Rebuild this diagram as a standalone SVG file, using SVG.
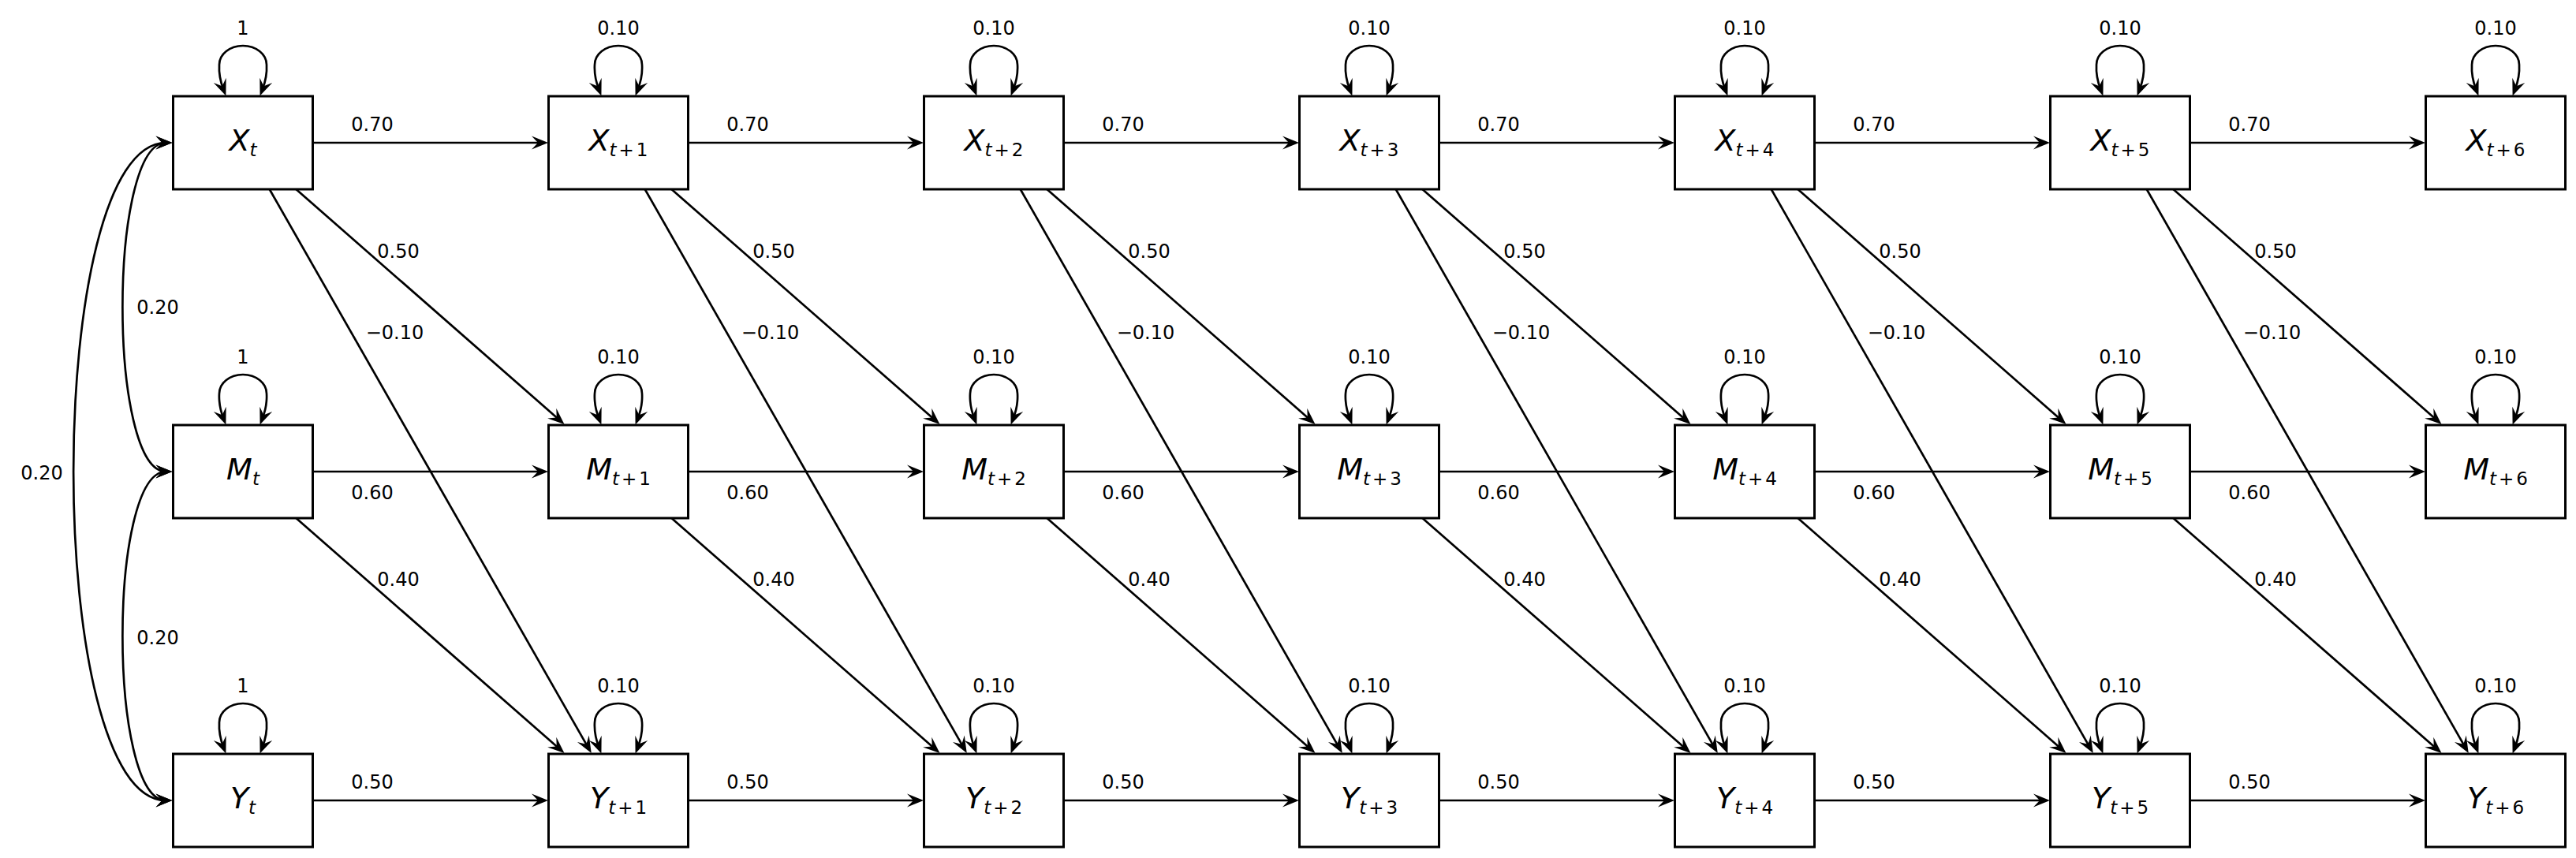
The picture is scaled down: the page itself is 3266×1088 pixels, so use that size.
<svg xmlns="http://www.w3.org/2000/svg" xmlns:xlink="http://www.w3.org/1999/xlink" width="3266" height="1088" viewBox="0 0 3266 1088">
<style>
.box{fill:#fff;stroke:#000;stroke-width:3}
.e{fill:none;stroke:#000;stroke-width:2.7;marker-end:url(#ah)}
.e2{fill:none;stroke:#000;stroke-width:2.7;marker-start:url(#ah);marker-end:url(#ah)}
.lbl{font-family:"DejaVu Sans","Liberation Sans",sans-serif;font-size:24px;text-anchor:middle;fill:#000}
.nd{font-family:"DejaVu Sans","Liberation Sans",sans-serif;font-size:38px;text-anchor:middle;fill:#000}
.it{font-style:italic}
.sub{font-size:23px}
</style>
<defs>
<marker id="ah" markerUnits="userSpaceOnUse" viewBox="-14 -9 23 18" refX="0" refY="0" markerWidth="23" markerHeight="18" orient="auto-start-reverse">
<path d="M8,0 L-13,-8.5 L-5,0 L-13,8.5 Z" fill="#000"/>
</marker>
<path id="loop" class="e2" d="M-24.5,-8 C-30,-22 -30.5,-32 -30,-40 A30,24 0 0 1 30,-40 C30.5,-32 30,-22 24.5,-8"/>
</defs>
<rect width="3266" height="1088" fill="#fff"/>

<g id="connectors">
<path class="e2" d="M210.5,181 C137,181 137,598 210.5,598"/>
<path class="e2" d="M210.5,598 C137,598 137,1015 210.5,1015"/>
<path class="e2" d="M210.5,181 C54,181 54,1015 210.5,1015"/>
<line class="e" x1="396.5" y1="181" x2="687" y2="181"/>
<line class="e" x1="872.5" y1="181" x2="1163" y2="181"/>
<line class="e" x1="1348.5" y1="181" x2="1639" y2="181"/>
<line class="e" x1="1824.5" y1="181" x2="2115" y2="181"/>
<line class="e" x1="2300.5" y1="181" x2="2591" y2="181"/>
<line class="e" x1="2776.5" y1="181" x2="3067" y2="181"/>
<line class="e" x1="396.5" y1="598" x2="687" y2="598"/>
<line class="e" x1="872.5" y1="598" x2="1163" y2="598"/>
<line class="e" x1="1348.5" y1="598" x2="1639" y2="598"/>
<line class="e" x1="1824.5" y1="598" x2="2115" y2="598"/>
<line class="e" x1="2300.5" y1="598" x2="2591" y2="598"/>
<line class="e" x1="2776.5" y1="598" x2="3067" y2="598"/>
<line class="e" x1="396.5" y1="1015" x2="687" y2="1015"/>
<line class="e" x1="872.5" y1="1015" x2="1163" y2="1015"/>
<line class="e" x1="1348.5" y1="1015" x2="1639" y2="1015"/>
<line class="e" x1="1824.5" y1="1015" x2="2115" y2="1015"/>
<line class="e" x1="2300.5" y1="1015" x2="2591" y2="1015"/>
<line class="e" x1="2776.5" y1="1015" x2="3067" y2="1015"/>
<line class="e" x1="375.4" y1="240" x2="709.5" y2="532.7"/>
<line class="e" x1="851.4" y1="240" x2="1185.5" y2="532.7"/>
<line class="e" x1="1327.4" y1="240" x2="1661.5" y2="532.7"/>
<line class="e" x1="1803.4" y1="240" x2="2137.5" y2="532.7"/>
<line class="e" x1="2279.4" y1="240" x2="2613.5" y2="532.7"/>
<line class="e" x1="2755.4" y1="240" x2="3089.5" y2="532.7"/>
<line class="e" x1="341.7" y1="240" x2="745.8" y2="948.1"/>
<line class="e" x1="817.7" y1="240" x2="1221.8" y2="948.1"/>
<line class="e" x1="1293.7" y1="240" x2="1697.8" y2="948.1"/>
<line class="e" x1="1769.7" y1="240" x2="2173.8" y2="948.1"/>
<line class="e" x1="2245.7" y1="240" x2="2649.8" y2="948.1"/>
<line class="e" x1="2721.7" y1="240" x2="3125.8" y2="948.1"/>
<line class="e" x1="375.4" y1="657" x2="709.5" y2="949.7"/>
<line class="e" x1="851.4" y1="657" x2="1185.5" y2="949.7"/>
<line class="e" x1="1327.4" y1="657" x2="1661.5" y2="949.7"/>
<line class="e" x1="1803.4" y1="657" x2="2137.5" y2="949.7"/>
<line class="e" x1="2279.4" y1="657" x2="2613.5" y2="949.7"/>
<line class="e" x1="2755.4" y1="657" x2="3089.5" y2="949.7"/>
<use xlink:href="#loop" href="#loop" x="308" y="122"/>
<use xlink:href="#loop" href="#loop" x="784" y="122"/>
<use xlink:href="#loop" href="#loop" x="1260" y="122"/>
<use xlink:href="#loop" href="#loop" x="1736" y="122"/>
<use xlink:href="#loop" href="#loop" x="2212" y="122"/>
<use xlink:href="#loop" href="#loop" x="2688" y="122"/>
<use xlink:href="#loop" href="#loop" x="3164" y="122"/>
<use xlink:href="#loop" href="#loop" x="308" y="539"/>
<use xlink:href="#loop" href="#loop" x="784" y="539"/>
<use xlink:href="#loop" href="#loop" x="1260" y="539"/>
<use xlink:href="#loop" href="#loop" x="1736" y="539"/>
<use xlink:href="#loop" href="#loop" x="2212" y="539"/>
<use xlink:href="#loop" href="#loop" x="2688" y="539"/>
<use xlink:href="#loop" href="#loop" x="3164" y="539"/>
<use xlink:href="#loop" href="#loop" x="308" y="956"/>
<use xlink:href="#loop" href="#loop" x="784" y="956"/>
<use xlink:href="#loop" href="#loop" x="1260" y="956"/>
<use xlink:href="#loop" href="#loop" x="1736" y="956"/>
<use xlink:href="#loop" href="#loop" x="2212" y="956"/>
<use xlink:href="#loop" href="#loop" x="2688" y="956"/>
<use xlink:href="#loop" href="#loop" x="3164" y="956"/>
</g>

<g id="edge-labels" class="lbl">
<text x="200" y="398">0.20</text>
<text x="200" y="817">0.20</text>
<text x="53" y="608">0.20</text>
<text x="472" y="166">0.70</text><text x="948" y="166">0.70</text><text x="1424" y="166">0.70</text><text x="1900" y="166">0.70</text><text x="2376" y="166">0.70</text><text x="2852" y="166">0.70</text>
<text x="472" y="633">0.60</text><text x="948" y="633">0.60</text><text x="1424" y="633">0.60</text><text x="1900" y="633">0.60</text><text x="2376" y="633">0.60</text><text x="2852" y="633">0.60</text>
<text x="472" y="1000">0.50</text><text x="948" y="1000">0.50</text><text x="1424" y="1000">0.50</text><text x="1900" y="1000">0.50</text><text x="2376" y="1000">0.50</text><text x="2852" y="1000">0.50</text>
<text x="505" y="327">0.50</text><text x="981" y="327">0.50</text><text x="1457" y="327">0.50</text><text x="1933" y="327">0.50</text><text x="2409" y="327">0.50</text><text x="2885" y="327">0.50</text>
<text x="500.5" y="430">−0.10</text><text x="976.5" y="430">−0.10</text><text x="1452.5" y="430">−0.10</text><text x="1928.5" y="430">−0.10</text><text x="2404.5" y="430">−0.10</text><text x="2880.5" y="430">−0.10</text>
<text x="505" y="743">0.40</text><text x="981" y="743">0.40</text><text x="1457" y="743">0.40</text><text x="1933" y="743">0.40</text><text x="2409" y="743">0.40</text><text x="2885" y="743">0.40</text>
<text x="308" y="44">1</text><text x="784" y="44">0.10</text><text x="1260" y="44">0.10</text><text x="1736" y="44">0.10</text><text x="2212" y="44">0.10</text><text x="2688" y="44">0.10</text><text x="3164" y="44">0.10</text>
<text x="308" y="461">1</text><text x="784" y="461">0.10</text><text x="1260" y="461">0.10</text><text x="1736" y="461">0.10</text><text x="2212" y="461">0.10</text><text x="2688" y="461">0.10</text><text x="3164" y="461">0.10</text>
<text x="308" y="878">1</text><text x="784" y="878">0.10</text><text x="1260" y="878">0.10</text><text x="1736" y="878">0.10</text><text x="2212" y="878">0.10</text><text x="2688" y="878">0.10</text><text x="3164" y="878">0.10</text>
</g>

<g id="X_t"><rect class="box" x="219.5" y="122" width="177" height="118"/><text class="nd" x="308" y="190.5"><tspan class="it">X</tspan><tspan class="sub it" dy="7.5">t</tspan></text></g>
<g id="X_t1"><rect class="box" x="695.5" y="122" width="177" height="118"/><text class="nd" x="784" y="190.5"><tspan class="it">X</tspan><tspan class="sub" dy="7.5"><tspan class="it">t</tspan><tspan dx="3">+</tspan><tspan dx="3">1</tspan></tspan></text></g>
<g id="X_t2"><rect class="box" x="1171.5" y="122" width="177" height="118"/><text class="nd" x="1260" y="190.5"><tspan class="it">X</tspan><tspan class="sub" dy="7.5"><tspan class="it">t</tspan><tspan dx="3">+</tspan><tspan dx="3">2</tspan></tspan></text></g>
<g id="X_t3"><rect class="box" x="1647.5" y="122" width="177" height="118"/><text class="nd" x="1736" y="190.5"><tspan class="it">X</tspan><tspan class="sub" dy="7.5"><tspan class="it">t</tspan><tspan dx="3">+</tspan><tspan dx="3">3</tspan></tspan></text></g>
<g id="X_t4"><rect class="box" x="2123.5" y="122" width="177" height="118"/><text class="nd" x="2212" y="190.5"><tspan class="it">X</tspan><tspan class="sub" dy="7.5"><tspan class="it">t</tspan><tspan dx="3">+</tspan><tspan dx="3">4</tspan></tspan></text></g>
<g id="X_t5"><rect class="box" x="2599.5" y="122" width="177" height="118"/><text class="nd" x="2688" y="190.5"><tspan class="it">X</tspan><tspan class="sub" dy="7.5"><tspan class="it">t</tspan><tspan dx="3">+</tspan><tspan dx="3">5</tspan></tspan></text></g>
<g id="X_t6"><rect class="box" x="3075.5" y="122" width="177" height="118"/><text class="nd" x="3164" y="190.5"><tspan class="it">X</tspan><tspan class="sub" dy="7.5"><tspan class="it">t</tspan><tspan dx="3">+</tspan><tspan dx="3">6</tspan></tspan></text></g>

<g id="M_t"><rect class="box" x="219.5" y="539" width="177" height="118"/><text class="nd" x="308" y="607.5"><tspan class="it">M</tspan><tspan class="sub it" dy="7.5">t</tspan></text></g>
<g id="M_t1"><rect class="box" x="695.5" y="539" width="177" height="118"/><text class="nd" x="784" y="607.5"><tspan class="it">M</tspan><tspan class="sub" dy="7.5"><tspan class="it">t</tspan><tspan dx="3">+</tspan><tspan dx="3">1</tspan></tspan></text></g>
<g id="M_t2"><rect class="box" x="1171.5" y="539" width="177" height="118"/><text class="nd" x="1260" y="607.5"><tspan class="it">M</tspan><tspan class="sub" dy="7.5"><tspan class="it">t</tspan><tspan dx="3">+</tspan><tspan dx="3">2</tspan></tspan></text></g>
<g id="M_t3"><rect class="box" x="1647.5" y="539" width="177" height="118"/><text class="nd" x="1736" y="607.5"><tspan class="it">M</tspan><tspan class="sub" dy="7.5"><tspan class="it">t</tspan><tspan dx="3">+</tspan><tspan dx="3">3</tspan></tspan></text></g>
<g id="M_t4"><rect class="box" x="2123.5" y="539" width="177" height="118"/><text class="nd" x="2212" y="607.5"><tspan class="it">M</tspan><tspan class="sub" dy="7.5"><tspan class="it">t</tspan><tspan dx="3">+</tspan><tspan dx="3">4</tspan></tspan></text></g>
<g id="M_t5"><rect class="box" x="2599.5" y="539" width="177" height="118"/><text class="nd" x="2688" y="607.5"><tspan class="it">M</tspan><tspan class="sub" dy="7.5"><tspan class="it">t</tspan><tspan dx="3">+</tspan><tspan dx="3">5</tspan></tspan></text></g>
<g id="M_t6"><rect class="box" x="3075.5" y="539" width="177" height="118"/><text class="nd" x="3164" y="607.5"><tspan class="it">M</tspan><tspan class="sub" dy="7.5"><tspan class="it">t</tspan><tspan dx="3">+</tspan><tspan dx="3">6</tspan></tspan></text></g>

<g id="Y_t"><rect class="box" x="219.5" y="956" width="177" height="118"/><text class="nd" x="308" y="1024.5"><tspan class="it">Y</tspan><tspan class="sub it" dy="7.5">t</tspan></text></g>
<g id="Y_t1"><rect class="box" x="695.5" y="956" width="177" height="118"/><text class="nd" x="784" y="1024.5"><tspan class="it">Y</tspan><tspan class="sub" dy="7.5"><tspan class="it">t</tspan><tspan dx="3">+</tspan><tspan dx="3">1</tspan></tspan></text></g>
<g id="Y_t2"><rect class="box" x="1171.5" y="956" width="177" height="118"/><text class="nd" x="1260" y="1024.5"><tspan class="it">Y</tspan><tspan class="sub" dy="7.5"><tspan class="it">t</tspan><tspan dx="3">+</tspan><tspan dx="3">2</tspan></tspan></text></g>
<g id="Y_t3"><rect class="box" x="1647.5" y="956" width="177" height="118"/><text class="nd" x="1736" y="1024.5"><tspan class="it">Y</tspan><tspan class="sub" dy="7.5"><tspan class="it">t</tspan><tspan dx="3">+</tspan><tspan dx="3">3</tspan></tspan></text></g>
<g id="Y_t4"><rect class="box" x="2123.5" y="956" width="177" height="118"/><text class="nd" x="2212" y="1024.5"><tspan class="it">Y</tspan><tspan class="sub" dy="7.5"><tspan class="it">t</tspan><tspan dx="3">+</tspan><tspan dx="3">4</tspan></tspan></text></g>
<g id="Y_t5"><rect class="box" x="2599.5" y="956" width="177" height="118"/><text class="nd" x="2688" y="1024.5"><tspan class="it">Y</tspan><tspan class="sub" dy="7.5"><tspan class="it">t</tspan><tspan dx="3">+</tspan><tspan dx="3">5</tspan></tspan></text></g>
<g id="Y_t6"><rect class="box" x="3075.5" y="956" width="177" height="118"/><text class="nd" x="3164" y="1024.5"><tspan class="it">Y</tspan><tspan class="sub" dy="7.5"><tspan class="it">t</tspan><tspan dx="3">+</tspan><tspan dx="3">6</tspan></tspan></text></g>
</svg>
